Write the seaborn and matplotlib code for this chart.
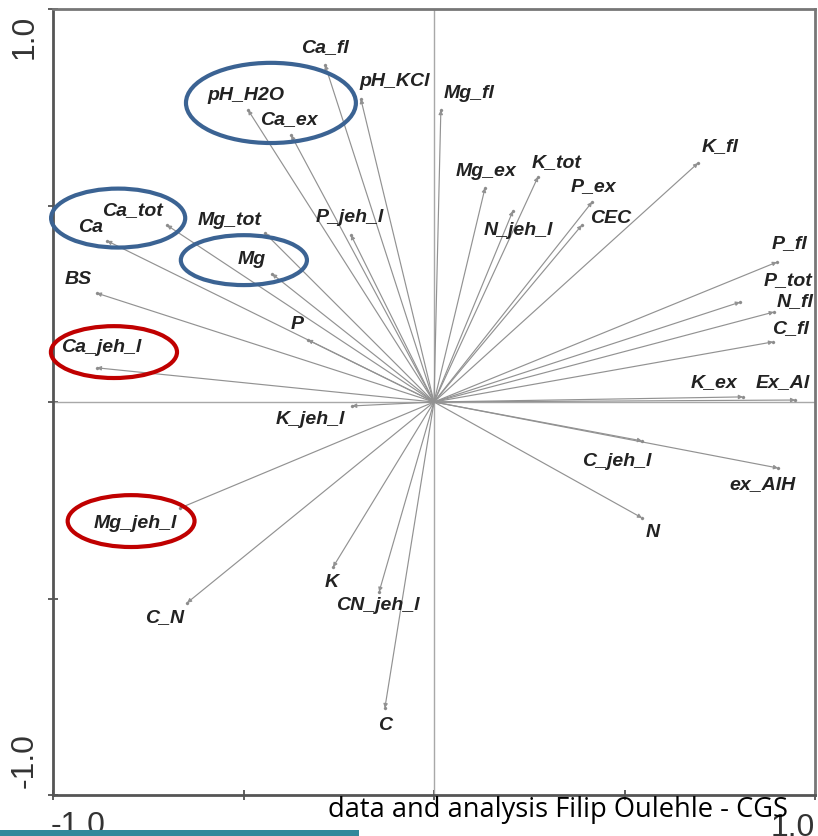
import matplotlib
matplotlib.use("Agg")
import matplotlib.pyplot as plt
from matplotlib.patches import Ellipse, Rectangle
import seaborn as sns
import pandas as pd

# ---- data: PCA loadings ----
variables = ["Ca_fl", "pH_KCl", "pH_H2O", "Ca_ex", "Ca_tot", "Ca", "Mg_tot", "P_jeh_l",
             "Mg", "BS", "P", "Ca_jeh_l", "K_jeh_l", "Mg_fl", "Mg_ex", "K_tot",
             "N_jeh_l", "P_ex", "CEC", "K_fl", "P_fl", "P_tot", "N_fl", "C_fl",
             "K_ex", "Ex_Al", "Mg_jeh_l", "C_N", "K", "CN_jeh_l", "C", "C_jeh_l",
             "ex_AlH", "N"]
axis1 = [-0.286, -0.192, -0.488, -0.375, -0.701, -0.858, -0.444, -0.218,
         -0.425, -0.885, -0.331, -0.885, -0.215, 0.018, 0.134, 0.273,
         0.207, 0.415, 0.388, 0.693, 0.900, 0.803, 0.892, 0.890,
         0.811, 0.948, -0.667, -0.648, -0.265, -0.144, -0.129, 0.546,
         0.903, 0.546]
axis2 = [0.858, 0.771, 0.743, 0.679, 0.450, 0.410, 0.430, 0.425,
         0.326, 0.277, 0.158, 0.087, -0.010, 0.743, 0.545, 0.573,
         0.486, 0.509, 0.450, 0.608, 0.356, 0.254, 0.229, 0.153,
         0.013, 0.005, -0.270, -0.511, -0.420, -0.483, -0.779, -0.099,
         -0.168, -0.295]
axis_ticks = [-1.0, -0.5, 0.0, 0.5, 1.0]
end_labels = ["-1.0", "1.0"]
credit = "data and analysis Filip Oulehle - CGS"

# ---- label offsets (pixels, y up) ----
label_offsets = {
    "Ca_fl": (0, 17), "pH_KCl": (34, 17), "pH_H2O": (-2, 15), "Ca_ex": (-2, 16),
    "Ca_tot": (-34, 15), "Ca": (-17, 13), "Mg_tot": (-35, 13), "P_jeh_l": (-1, 17),
    "Mg": (-20, 14), "BS": (-19, 14), "P": (-11, 15), "Ca_jeh_l": (4, 20),
    "K_jeh_l": (-42, -14), "Mg_fl": (28, 17), "Mg_ex": (1, 16), "K_tot": (19, 14),
    "N_jeh_l": (5, -19), "P_ex": (1, 15), "CEC": (29, 7), "K_fl": (22, 16),
    "P_fl": (13, 19), "P_tot": (48, 22), "N_fl": (21, 10), "C_fl": (17, 13),
    "K_ex": (-29, 14), "Ex_Al": (-12, 17), "Mg_jeh_l": (-45, -15), "C_N": (-23, -15),
    "K": (-1, -15), "CN_jeh_l": (-1, -14), "C": (0, -17), "C_jeh_l": (-25, -21),
    "ex_AlH": (-16, -17), "N": (11, -15),
}

# highlight ellipses: (cx, cy, w, h, colour) in data units
ellipses = [
    (-0.428, 0.761, 0.446, 0.204, "#3b6393"),
    (-0.829, 0.468, 0.352, 0.150, "#3b6393"),
    (-0.499, 0.361, 0.331, 0.127, "#3b6393"),
    (-0.840, 0.127, 0.331, 0.132, "#c00000"),
    (-0.795, -0.303, 0.333, 0.132, "#c00000"),
]

df = pd.DataFrame({"variable": variables, "x": axis1, "y": axis2})

sns.set_theme(style="white")
plt.rcParams["font.family"] = ["Liberation Sans", "DejaVu Sans"]

W, H = 818, 836
fig = plt.figure(figsize=(W / 100, H / 100), dpi=100)
ax = fig.add_axes([53 / W, 41 / H, 762 / W, 786 / H])

ax.axhline(0, color="#a8a8a8", lw=1.0, zorder=1)
ax.axvline(0, color="#a8a8a8", lw=1.0, zorder=1)

for _, r in df.iterrows():
    ax.annotate("", xy=(r.x, r.y), xytext=(0, 0),
                arrowprops=dict(arrowstyle="-|>", color="#929292", lw=0.85,
                                mutation_scale=6, shrinkA=0, shrinkB=0),
                zorder=2)

sns.scatterplot(data=df, x="x", y="y", ax=ax, s=5, color="#8c8c8c",
                edgecolor=None, legend=False, zorder=3)

for _, r in df.iterrows():
    dx, dy = label_offsets[r.variable]
    ax.annotate(r.variable, xy=(r.x, r.y), xytext=(dx, dy),
                textcoords="offset pixels", ha="center", va="center",
                fontsize=14, fontweight="bold", fontstyle="italic",
                color="#222222", zorder=4)

for cx, cy, w, h, c in ellipses:
    ax.add_patch(Ellipse((cx, cy), w, h, fill=False, edgecolor=c, lw=3,
                         clip_on=False, zorder=5))

ax.set_xlim(-1, 1)
ax.set_ylim(-1, 1)
ax.set_xticks(axis_ticks)
ax.set_yticks(axis_ticks)
ax.set_xticklabels([])
ax.set_yticklabels([])
ax.set_xlabel("")
ax.set_ylabel("")
ax.tick_params(axis="both", direction="inout", length=7, width=1.2,
               color="#444444", bottom=True, left=True)
for s in ["left", "bottom"]:
    ax.spines[s].set_color("#555555")
    ax.spines[s].set_linewidth(2)
for s in ["top", "right"]:
    ax.spines[s].set_color("#777777")
    ax.spines[s].set_linewidth(2)

def fx(px):
    return px / W

def fy(py):
    return 1 - py / H

tick_font = dict(fontsize=23, color="#333333", family="Liberation Sans")
fig.text(fx(25), fy(37), end_labels[1], rotation=90, ha="center", va="center", **tick_font)
fig.text(fx(25), fy(761), end_labels[0], rotation=90, ha="center", va="center", **tick_font)
fig.text(fx(51), fy(811), end_labels[0], ha="left", va="top", **tick_font)
fig.text(fx(815), fy(813), end_labels[1], ha="right", va="top", **tick_font)

# credit text, fitted to its width in the reference
t = fig.text(fx(558), fy(817), credit, ha="center", va="baseline",
             fontsize=18, color="black", family=["Open Sans", "DejaVu Sans"], zorder=10)
fig.canvas.draw()
bb = t.get_window_extent(renderer=fig.canvas.get_renderer())
t.set_fontsize(18 * 460 / bb.width)

fig.patches.append(Rectangle((0, 0), 359 / W, 6 / H, transform=fig.transFigure,
                             facecolor="#31889b", edgecolor="none", zorder=10))

fig.savefig("out.png", dpi=100)
